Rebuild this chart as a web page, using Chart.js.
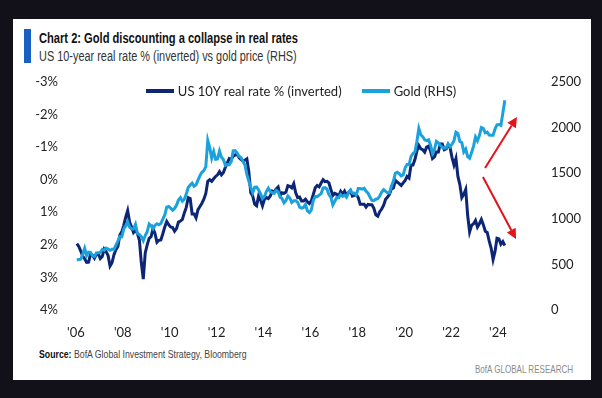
<!DOCTYPE html>
<html><head><meta charset="utf-8">
<script src="https://cdn.jsdelivr.net/npm/chart.js@4.4.1/dist/chart.umd.min.js"></script>
<style>
html,body{margin:0;padding:0;background:#121119;width:602px;height:398px;overflow:hidden;}
#card{position:absolute;left:13px;top:19px;width:578px;height:361px;background:#fff;}
#bar{position:absolute;left:24px;top:29px;width:7px;height:34px;background:#1a5fc2;}
.t{position:absolute;white-space:nowrap;transform-origin:0 0;line-height:1;font-family:"Liberation Sans Narrow","Liberation Sans",sans-serif;}
#title{left:39px;top:31px;font-weight:bold;font-size:14px;color:#111;}
#sub{left:39px;top:49px;font-size:14px;color:#333;}
#src{left:39px;top:349px;font-size:11px;color:#444;}
#src b{color:#111;}
#brand{left:475px;top:364px;font-size:11px;color:#8a8a8a;}
#legend{position:absolute;top:83px;left:0;width:602px;display:flex;justify-content:center;font-family:Lato,sans-serif;font-size:13px;color:#222;}
.li{display:flex;align-items:center;margin:0 10px;}
.sw{width:28px;height:4px;margin-right:4px;}
canvas{position:absolute;left:0;top:0;}
</style></head>
<body>
<div id="card"></div>
<div id="bar"></div>
<div class="t" id="title">Chart 2: Gold discounting a collapse in real rates</div>
<div class="t" id="sub">US 10-year real rate % (inverted) vs gold price (RHS)</div>
<div class="t" id="src"><b>Source:</b> BofA Global Investment Strategy, Bloomberg</div>
<div class="t" id="brand">BofA GLOBAL RESEARCH</div>
<canvas id="c" width="602" height="398"></canvas>
<div id="legend"></div>
<script>
// ---- data (monthly, Jan 2006 - Apr 2024) ----
const startYear = 2006;
const xTickYears = [2006, 2008, 2010, 2012, 2014, 2016, 2018, 2020, 2022, 2024];
const rateTicks = [-3, -2, -1, 0, 1, 2, 3, 4];
const goldTicks = [0, 500, 1000, 1500, 2000, 2500];
const seriesNames = ["US 10Y real rate % (inverted)", "Gold (RHS)"];

const realRate = [
  1.96, 2.05, 2.19, 2.35, 2.43, 2.54, 2.53, 2.29, 2.32, 2.41, 2.29, 2.27, // 2006
  2.42, 2.36, 2.13, 2.21, 2.33, 2.65, 2.55, 2.30, 2.15, 2.05, 1.70, 1.60, // 2007
  1.40, 1.15, 0.95, 1.30, 1.45, 1.62, 1.55, 1.65, 1.85, 2.55, 3.05, 2.25, // 2008
  2.00, 1.80, 1.75, 1.50, 1.65, 1.92, 1.86, 1.85, 1.66, 1.45, 1.28, 1.38, // 2009
  1.45, 1.47, 1.58, 1.50, 1.30, 1.27, 1.22, 1.02, 0.85, 0.55, 0.58, 1.05, // 2010
  1.05, 1.17, 0.92, 0.82, 0.72, 0.60, 0.42, 0.05, 0.00, 0.05, -0.03, -0.10, // 2011
  -0.15, -0.25, -0.15, -0.22, -0.38, -0.52, -0.65, -0.62, -0.72, -0.76, -0.78, -0.68, // 2012
  -0.62, -0.58, -0.60, -0.64, -0.25, 0.40, 0.50, 0.75, 0.80, 0.50, 0.62, 0.80, // 2013
  0.60, 0.55, 0.58, 0.50, 0.35, 0.38, 0.28, 0.22, 0.48, 0.40, 0.42, 0.38, // 2014
  0.18, 0.20, 0.25, 0.12, 0.40, 0.55, 0.53, 0.65, 0.65, 0.60, 0.68, 0.73, // 2015
  0.65, 0.45, 0.25, 0.18, 0.22, 0.10, 0.00, 0.06, 0.05, 0.10, 0.30, 0.48, // 2016
  0.42, 0.45, 0.50, 0.36, 0.45, 0.35, 0.48, 0.40, 0.33, 0.50, 0.48, 0.45, // 2017
  0.55, 0.75, 0.75, 0.75, 0.84, 0.76, 0.77, 0.77, 0.88, 1.08, 1.12, 0.98, // 2018
  0.90, 0.78, 0.60, 0.53, 0.45, 0.28, 0.25, 0.02, 0.08, 0.12, 0.18, 0.10, // 2019
  0.02, -0.10, -0.05, -0.45, -0.45, -0.62, -0.88, -1.05, -0.95, -0.92, -0.85, -1.00, // 2020
  -1.03, -0.88, -0.65, -0.70, -0.85, -0.85, -1.10, -1.10, -0.92, -0.95, -1.08, -0.98, // 2021
  -0.68, -0.45, -0.65, -0.10, 0.15, 0.55, 0.45, 0.30, 1.10, 1.60, 1.40, 1.35, // 2022
  1.25, 1.45, 1.35, 1.22, 1.38, 1.58, 1.62, 1.88, 2.10, 2.45, 2.20, 1.80, // 2023
  1.82, 1.98, 1.90, 2.02 // 2024
];

const gold = [
  549, 555, 557, 610, 676, 596, 634, 632, 598, 585, 627, 629, // 2006
  631, 665, 655, 679, 667, 655, 665, 665, 712, 754, 806, 803, // 2007
  889, 922, 968, 909, 888, 889, 939, 839, 829, 806, 760, 816, // 2008
  858, 943, 924, 890, 928, 946, 934, 949, 996, 1043, 1127, 1135, // 2009
  1117, 1095, 1113, 1148, 1205, 1232, 1193, 1215, 1271, 1343, 1370, 1391, // 2010
  1356, 1372, 1424, 1474, 1510, 1528, 1572, 1860, 1780, 1666, 1739, 1652, // 2011
  1656, 1743, 1674, 1650, 1585, 1596, 1594, 1626, 1745, 1747, 1722, 1685, // 2012
  1671, 1627, 1593, 1487, 1414, 1343, 1286, 1347, 1349, 1316, 1275, 1222, // 2013
  1244, 1300, 1336, 1299, 1288, 1279, 1311, 1296, 1239, 1222, 1176, 1200, // 2014
  1250, 1227, 1179, 1198, 1199, 1181, 1128, 1117, 1125, 1157, 1086, 1068, // 2015
  1097, 1200, 1245, 1242, 1260, 1276, 1337, 1341, 1326, 1266, 1236, 1152, // 2016
  1192, 1234, 1231, 1266, 1246, 1260, 1236, 1283, 1314, 1280, 1282, 1265, // 2017
  1331, 1331, 1324, 1335, 1303, 1282, 1238, 1202, 1199, 1215, 1220, 1250, // 2018
  1292, 1320, 1300, 1286, 1284, 1359, 1413, 1500, 1510, 1495, 1471, 1480, // 2019
  1560, 1597, 1592, 1683, 1715, 1732, 1847, 1990, 1921, 1900, 1866, 1858, // 2020
  1867, 1808, 1718, 1760, 1850, 1834, 1807, 1785, 1775, 1777, 1821, 1790, // 2021
  1817, 1856, 1950, 1937, 1848, 1836, 1733, 1765, 1681, 1664, 1726, 1797, // 2022
  1898, 1855, 1912, 2000, 1992, 1943, 1951, 1918, 1916, 1916, 1985, 2030, // 2023
  2034, 2024, 2160, 2300 // 2024
];

// annotation arrows (x in years, y on gold axis)
const arrowUp = { x: [2023.45, 2024.81], y: [1557, 2116] };
const arrowDown = { x: [2023.36, 2024.77], y: [1458, 778] };

const navy = '#0c2574', sky = '#1ba2dc', red = '#e3121b';
const xs = realRate.map((_, i) => startYear + i / 12 + 1 / 24);

const arrowPlugin = {
  id: 'arrows',
  afterDatasetsDraw(chart) {
    const { ctx, scales } = chart;
    [arrowUp, arrowDown].forEach(a => {
      const x0 = scales.x.getPixelForValue(a.x[0]), y0 = scales.y2.getPixelForValue(a.y[0]);
      const x1 = scales.x.getPixelForValue(a.x[1]), y1 = scales.y2.getPixelForValue(a.y[1]);
      const ang = Math.atan2(y1 - y0, x1 - x0), hl = 10, hw = 5;
      const bx = x1 - hl * Math.cos(ang), by = y1 - hl * Math.sin(ang);
      ctx.save();
      ctx.strokeStyle = red; ctx.fillStyle = red; ctx.lineWidth = 2;
      ctx.beginPath(); ctx.moveTo(x0, y0); ctx.lineTo(bx, by); ctx.stroke();
      ctx.beginPath(); ctx.moveTo(x1, y1);
      ctx.lineTo(bx + hw * Math.sin(ang), by - hw * Math.cos(ang));
      ctx.lineTo(bx - hw * Math.sin(ang), by + hw * Math.cos(ang));
      ctx.closePath(); ctx.fill();
      ctx.restore();
    });
  }
};

const tickFont = { family: 'Lato', size: 13 };
const chart = new Chart(document.getElementById('c'), {
  type: 'line',
  data: {
    datasets: [
      { label: seriesNames[0], data: xs.map((x, i) => ({ x, y: realRate[i] })), yAxisID: 'y',
        borderColor: navy, backgroundColor: navy, borderWidth: 3, pointRadius: 0, order: 1 },
      { label: seriesNames[1], data: xs.map((x, i) => ({ x, y: gold[i] })), yAxisID: 'y2',
        borderColor: sky, backgroundColor: sky, borderWidth: 3, pointRadius: 0, order: 0 }
    ]
  },
  options: {
    responsive: false, animation: false,
    layout: { padding: { left: 14, right: 18, top: 82, bottom: 58 } },
    plugins: { legend: { display: false }, tooltip: { enabled: false } },
    scales: {
      x: { type: 'linear', min: 2005.75, max: 2025.75,
        grid: { display: false }, border: { display: false },
        afterBuildTicks: s => { s.ticks = xTickYears.map(v => ({ value: v })); },
        afterFit: s => { s.height = 30; },
        ticks: { callback: v => "'" + String(v).slice(2), color: '#222', font: tickFont, padding: 7, maxRotation: 0, autoSkip: false } },
      y: { position: 'left', reverse: true, min: -3, max: 4,
        grid: { display: false }, border: { display: false },
        afterBuildTicks: s => { s.ticks = rateTicks.map(v => ({ value: v })); },
        afterFit: s => { s.width = 56; },
        ticks: { callback: v => v + '%', color: '#222', font: tickFont, padding: 4 } },
      y2: { position: 'right', min: 0, max: 2500,
        grid: { display: false }, border: { display: false },
        afterBuildTicks: s => { s.ticks = goldTicks.map(v => ({ value: v })); },
        afterFit: s => { s.width = 45; },
        ticks: { callback: v => String(v), color: '#222', font: tickFont, padding: 4 } }
    }
  },
  plugins: [arrowPlugin]
});

// HTML legend built from the datasets
const lg = document.getElementById('legend');
chart.data.datasets.forEach(ds => {
  const it = document.createElement('div'); it.className = 'li';
  const sw = document.createElement('div'); sw.className = 'sw'; sw.style.background = ds.borderColor;
  const tx = document.createElement('span'); tx.textContent = ds.label;
  it.appendChild(sw); it.appendChild(tx); lg.appendChild(it);
});

// fit header/footer text widths
const targets = { title: 259, sub: 258, src: 208, brand: 98 };
Object.keys(targets).forEach(id => {
  const el = document.getElementById(id);
  el.style.transform = 'scaleX(' + (targets[id] / el.offsetWidth) + ')';
});
</script>
</body></html>
